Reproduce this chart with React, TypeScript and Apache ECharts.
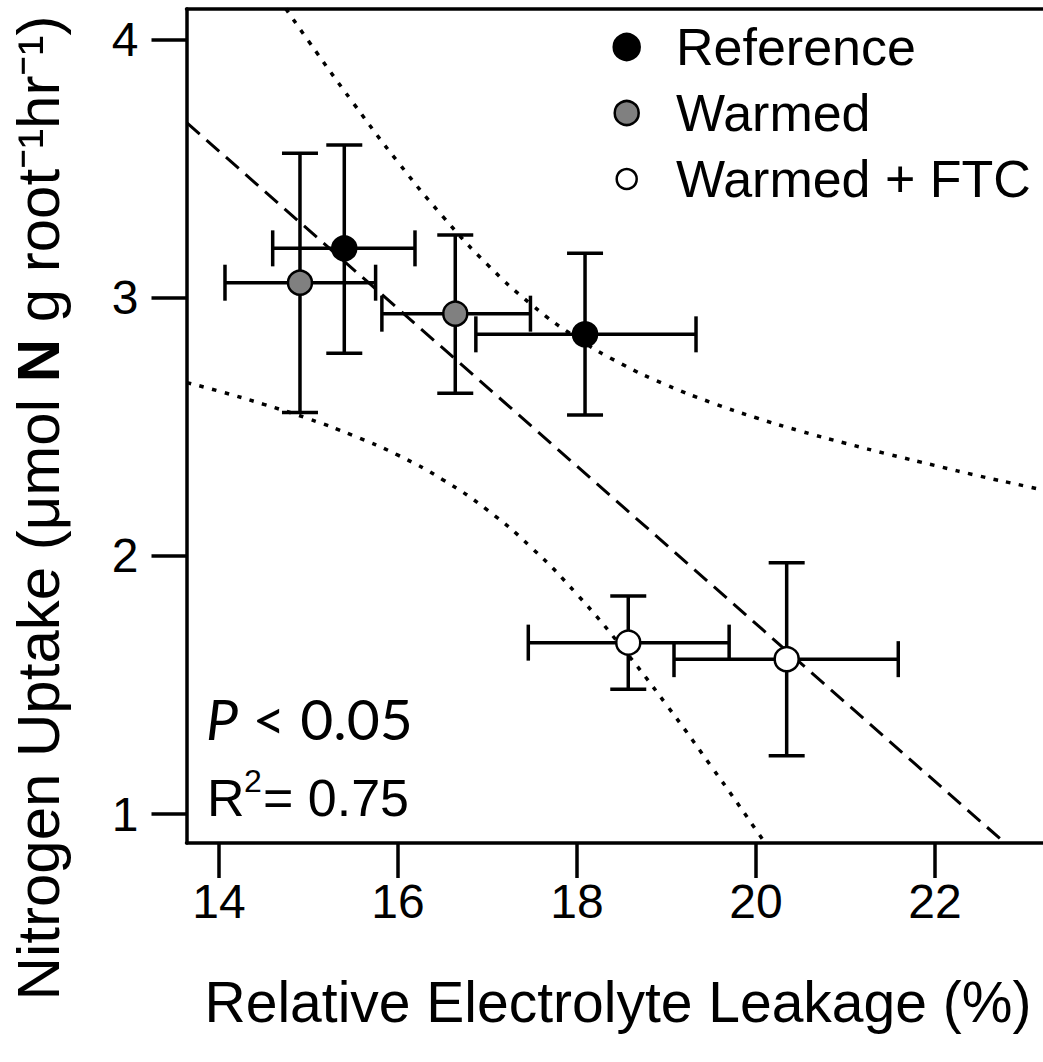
import React, { useEffect, useRef } from "react";
import * as echarts from "echarts";

// ---- data ----
const groupNames = ["Reference", "Warmed", "Warmed + FTC"];

const referenceX = [15.4, 18.09];
const referenceY = [3.191, 2.858];
const referenceXLow = [14.6, 16.87];
const referenceXHigh = [16.19, 19.33];
const referenceYLow = [2.785, 2.546];
const referenceYHigh = [3.591, 3.172];

const warmedX = [14.905, 16.64];
const warmedY = [3.058, 2.938];
const warmedXLow = [14.067, 15.82];
const warmedXHigh = [15.75, 17.48];
const warmedYLow = [2.555, 2.63];
const warmedYHigh = [3.559, 3.243];

const ftcX = [18.573, 20.343];
const ftcY = [1.664, 1.6];
const ftcXLow = [17.456, 19.084];
const ftcXHigh = [19.7, 21.59];
const ftcYLow = [1.483, 1.226];
const ftcYHigh = [1.845, 1.973];

// fitted regression line (end points where it meets the frame)
const fitX = [13.642, 22.782];
const fitY = [3.677, 0.888];

// confidence band curves (dotted)
const upperBandX = [14.5, 15.0, 15.5, 16.0, 16.5, 17.0, 17.5, 18.0, 18.5, 19.0, 19.5, 20.0, 20.5, 21.0, 21.5, 22.0, 22.5, 23.0, 23.3];
const upperBandY = [4.243, 3.994, 3.754, 3.525, 3.315, 3.128, 2.971, 2.844, 2.743, 2.662, 2.594, 2.535, 2.483, 2.436, 2.392, 2.35, 2.309, 2.271, 2.248];
const lowerBandX = [13.642, 14.0, 14.5, 15.0, 15.5, 16.0, 16.5, 17.0, 17.5, 18.0, 18.5, 19.0, 19.5, 20.0, 20.5];
const lowerBandY = [2.671, 2.638, 2.587, 2.531, 2.466, 2.39, 2.295, 2.177, 2.029, 1.851, 1.647, 1.423, 1.185, 0.939, 0.686];

const xTicks = [14, 16, 18, 20, 22];
const yTicks = [1, 2, 3, 4];
const xMin = 13.637;
const xMax = 23.207;
const yMin = 0.888;
const yMax = 4.118;

const FONT = "'Liberation Sans', Arial, sans-serif";

function zip(a: number[], b: number[]) {
  return a.map((v, i) => [v, b[i]]);
}

function errRows(x: number[], y: number[], xl: number[], xh: number[], yl: number[], yh: number[]) {
  return x.map((v, i) => [v, y[i], xl[i], xh[i], yl[i], yh[i]]);
}

export default function App() {
  const ref = useRef<HTMLDivElement>(null);

  useEffect(() => {
    if (!ref.current) return;
    const chart = echarts.init(ref.current, undefined, { renderer: "svg" });

    const errorData = [
      ...errRows(referenceX, referenceY, referenceXLow, referenceXHigh, referenceYLow, referenceYHigh),
      ...errRows(warmedX, warmedY, warmedXLow, warmedXHigh, warmedYLow, warmedYHigh),
      ...errRows(ftcX, ftcY, ftcXLow, ftcXHigh, ftcYLow, ftcYHigh),
    ];

    const axisLineStyle = { color: "#000", width: 3.5 };

    const legendMarks = [
      { name: groupNames[0], fill: "#000", r: 13, y: 47 },
      { name: groupNames[1], fill: "#808080", r: 12, y: 113 },
      { name: groupNames[2], fill: "#fff", r: 10, y: 179 },
    ];

    const option: any = {
      animation: false,
      backgroundColor: "#fff",
      grid: { left: 186.5, top: 9, right: 0, bottom: 219 },
      xAxis: [
        {
          type: "value",
          position: "bottom",
          min: xMin,
          max: xMax,
          axisLine: { show: true, onZero: false, lineStyle: axisLineStyle },
          axisTick: { show: true, length: 35, customValues: xTicks, lineStyle: axisLineStyle },
          axisLabel: {
            customValues: xTicks,
            fontSize: 48,
            color: "#000",
            margin: 34,
            fontFamily: FONT,
          },
          splitLine: { show: false },
        },
        {
          type: "value",
          position: "top",
          min: xMin,
          max: xMax,
          axisLine: { show: true, onZero: false, lineStyle: axisLineStyle },
          axisTick: { show: false },
          axisLabel: { show: false },
          splitLine: { show: false },
        },
      ],
      yAxis: {
        type: "value",
        min: yMin,
        max: yMax,
        axisLine: { show: true, onZero: false, lineStyle: axisLineStyle },
        axisTick: { show: true, length: 35, customValues: yTicks, lineStyle: axisLineStyle },
        axisLabel: {
          customValues: yTicks,
          fontSize: 48,
          color: "#000",
          margin: 48,
          fontFamily: FONT,
        },
        splitLine: { show: false },
      },
      series: [
        {
          name: "fit",
          type: "line",
          data: zip(fitX, fitY),
          showSymbol: false,
          clip: true,
          z: 1,
          lineStyle: { color: "#000", width: 3, type: [17, 9] },
        },
        {
          name: "upper",
          type: "line",
          data: zip(upperBandX, upperBandY),
          showSymbol: false,
          smooth: true,
          clip: true,
          z: 1,
          lineStyle: { color: "#000", width: 3.5, type: [4.5, 8.5] },
        },
        {
          name: "lower",
          type: "line",
          data: zip(lowerBandX, lowerBandY),
          showSymbol: false,
          smooth: true,
          clip: true,
          z: 1,
          lineStyle: { color: "#000", width: 3.5, type: [4.5, 8.5] },
        },
        {
          name: "errors",
          type: "custom",
          z: 2,
          data: errorData,
          encode: { x: 0, y: 1 },
          renderItem: (params: any, api: any) => {
            const x = api.value(0);
            const y = api.value(1);
            const c = api.coord([x, y]);
            const pl = api.coord([api.value(2), y]);
            const ph = api.coord([api.value(3), y]);
            const ql = api.coord([x, api.value(4)]);
            const qh = api.coord([x, api.value(5)]);
            const cap = 18;
            const style = { stroke: "#000", lineWidth: 3.5 };
            return {
              type: "group",
              children: [
                { type: "line", shape: { x1: pl[0], y1: c[1], x2: ph[0], y2: c[1] }, style },
                { type: "line", shape: { x1: pl[0], y1: c[1] - cap, x2: pl[0], y2: c[1] + cap }, style },
                { type: "line", shape: { x1: ph[0], y1: c[1] - cap, x2: ph[0], y2: c[1] + cap }, style },
                { type: "line", shape: { x1: c[0], y1: ql[1], x2: c[0], y2: qh[1] }, style },
                { type: "line", shape: { x1: c[0] - cap, y1: ql[1], x2: c[0] + cap, y2: ql[1] }, style },
                { type: "line", shape: { x1: c[0] - cap, y1: qh[1], x2: c[0] + cap, y2: qh[1] }, style },
              ],
            };
          },
        },
        {
          name: groupNames[0],
          type: "scatter",
          z: 3,
          symbol: "circle",
          symbolSize: 24,
          data: zip(referenceX, referenceY),
          itemStyle: { color: "#000", borderColor: "#000", borderWidth: 2.5, opacity: 1 },
        },
        {
          name: groupNames[1],
          type: "scatter",
          z: 3,
          symbol: "circle",
          symbolSize: 24,
          data: zip(warmedX, warmedY),
          itemStyle: { color: "#808080", borderColor: "#000", borderWidth: 2.5, opacity: 1 },
        },
        {
          name: groupNames[2],
          type: "scatter",
          z: 3,
          symbol: "circle",
          symbolSize: 24,
          data: zip(ftcX, ftcY),
          itemStyle: { color: "#fff", borderColor: "#000", borderWidth: 2.5, opacity: 1 },
        },
      ],
      graphic: [
        // legend
        ...legendMarks.flatMap((m) => [
          {
            type: "circle",
            shape: { cx: 626.7, cy: m.y, r: m.r },
            style: { fill: m.fill, stroke: "#000", lineWidth: 2.5 },
            z: 10,
          },
          {
            type: "text",
            x: 676,
            y: m.y,
            style: {
              text: m.name,
              fontSize: 52,
              fontFamily: FONT,
              fill: "#000",
              align: "left",
              verticalAlign: "middle",
            },
            z: 10,
          },
        ]),
        // P value
        {
          type: "text",
          x: 206,
          y: 718,
          style: {
            text: "{i|P}{n| < 0.05}",
            align: "left",
            verticalAlign: "middle",
            rich: {
              i: { fontSize: 57, fontStyle: "italic", fontFamily: "Lato, 'Open Sans', sans-serif", fill: "#000" },
              n: { fontSize: 57, fontFamily: "Lato, 'Open Sans', sans-serif", fill: "#000" },
            },
          },
          z: 10,
        },
        // R squared: "R", raised "2", "= 0.75"
        {
          type: "text",
          x: 207,
          y: 798,
          style: { text: "R", fontSize: 52, fontFamily: FONT, fill: "#000", align: "left", verticalAlign: "middle" },
          z: 10,
        },
        {
          type: "text",
          x: 244,
          y: 781,
          style: { text: "2", fontSize: 32, fontFamily: FONT, fill: "#000", align: "left", verticalAlign: "middle" },
          z: 10,
        },
        {
          type: "text",
          x: 263,
          y: 798,
          style: { text: "= 0.75", fontSize: 52, fontFamily: FONT, fill: "#000", align: "left", verticalAlign: "middle" },
          z: 10,
        },
        // x-axis title
        {
          type: "text",
          x: 618,
          y: 1002,
          style: {
            text: "Relative Electrolyte Leakage (%)",
            fontSize: 57,
            fontFamily: FONT,
            fill: "#000",
            align: "center",
            verticalAlign: "middle",
          },
        },
        // y-axis title
        {
          type: "text",
          x: 38,
          y: 508,
          rotation: Math.PI / 2,
          style: {
            text: "{a|Nitrogen Uptake (μmol }{b|N}{a| g root⁻¹hr⁻¹)}",
            align: "center",
            verticalAlign: "middle",
            rich: {
              a: { fontSize: 60, fontFamily: FONT, fill: "#000" },
              b: { fontSize: 60, fontFamily: FONT, fontWeight: "bold", fill: "#000" },
            },
          },
        },
      ],
    };

    chart.setOption(option);
    return () => chart.dispose();
  }, []);

  return (
    <div
      ref={ref}
      style={{ position: "fixed", left: 0, top: 0, width: 1043, height: 1062, background: "#fff" }}
    />
  );
}
